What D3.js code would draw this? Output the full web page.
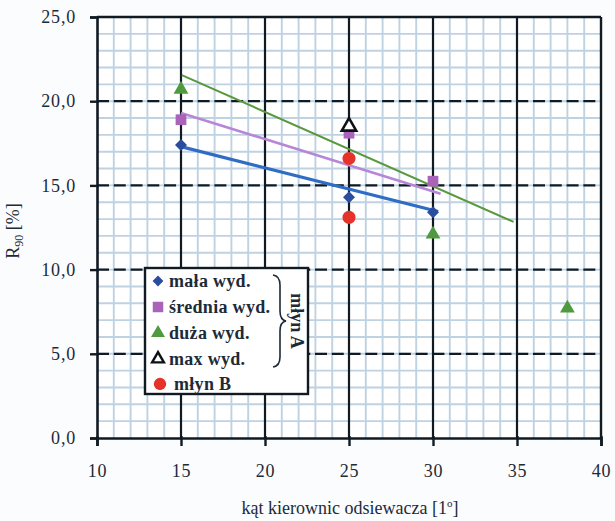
<!DOCTYPE html>
<html>
<head>
<meta charset="utf-8">
<script src="https://cdn.jsdelivr.net/npm/d3@7"></script>
<style>
  html, body { margin: 0; padding: 0; background: #fbfcfe; }
  svg { display: block; }
  text { font-family: "Liberation Serif", "DejaVu Serif", serif; fill: #1d2a38; }
</style>
</head>
<body>
<svg id="chart" width="615" height="521"></svg>
<script>
// Tick values
const xTicks = [10, 15, 20, 25, 30, 35, 40];
const yTicks = [0, 5, 10, 15, 20, 25];

// Measured points (angle of classifier vanes vs R90)
const malaX = [15, 25, 30];
const malaY = [17.4, 14.3, 13.4];
const sredniaX = [15, 25, 30];
const sredniaY = [18.9, 18.1, 15.25];
const duzaX = [15, 30, 38];
const duzaY = [20.7, 12.1, 7.7];
const maxX = [25];
const maxY = [18.5];
const mlynBX = [25, 25];
const mlynBY = [16.6, 13.1];

// Trend lines (start and end points)
const trendMala = [[15, 17.3], [30.3, 13.45]];
const trendSrednia = [[15, 19.3], [30.45, 14.5]];
const trendDuza = [[15.05, 21.55], [34.8, 12.83]];

// Legend labels
const legendLabels = ["mała wyd.", "średnia wyd.", "duża wyd.", "max wyd.", "młyn B"];

const svg = d3.select("#chart");
const x = d3.scaleLinear().domain([10, 40]).range([97, 601]);
const y = d3.scaleLinear().domain([0, 25]).range([438, 17]);

// plot background
svg.append("rect")
  .attr("x", x(10)).attr("y", y(25))
  .attr("width", x(40) - x(10)).attr("height", y(0) - y(25))
  .attr("fill", "#ffffff");

// minor grid every 1 unit
const grid = svg.append("g");
grid.selectAll("line.mx").data(d3.range(11, 40)).join("line")
  .attr("x1", d => x(d)).attr("x2", d => x(d))
  .attr("y1", y(0)).attr("y2", y(25))
  .attr("stroke", "#bed2e2").attr("stroke-width", 1.9);
grid.selectAll("line.my").data(d3.range(1, 25)).join("line")
  .attr("y1", d => y(d)).attr("y2", d => y(d))
  .attr("x1", x(10)).attr("x2", x(40))
  .attr("stroke", "#bed2e2").attr("stroke-width", 1.9);

// major grid: solid verticals, dashed horizontals
grid.selectAll("line.Mx").data(xTicks.filter(d => d > 10 && d < 40)).join("line")
  .attr("x1", d => x(d)).attr("x2", d => x(d))
  .attr("y1", y(0)).attr("y2", y(25))
  .attr("stroke", "#111a22").attr("stroke-width", 2.2);
grid.selectAll("line.My").data(yTicks.filter(d => d > 0 && d < 25)).join("line")
  .attr("y1", d => y(d)).attr("y2", d => y(d))
  .attr("x1", x(10)).attr("x2", x(40))
  .attr("stroke", "#111a22").attr("stroke-width", 2.2)
  .attr("stroke-dasharray", "12,4.77");

// frame on top and right
svg.append("line").attr("x1", x(10)).attr("x2", x(40)).attr("y1", y(25)).attr("y2", y(25))
  .attr("stroke", "#111a22").attr("stroke-width", 2.4);
svg.append("line").attr("x1", x(40)).attr("x2", x(40)).attr("y1", y(0)).attr("y2", y(25))
  .attr("stroke", "#111a22").attr("stroke-width", 2.4);

// axes
const xAxis = d3.axisBottom(x).tickValues(xTicks).tickSize(8).tickPadding(18)
  .tickFormat(d3.format("d"));
const gx = svg.append("g").attr("transform", `translate(0,${y(0)})`).call(xAxis);
const yAxis = d3.axisLeft(y).tickValues(yTicks).tickSize(7).tickPadding(14)
  .tickFormat(d => d3.format(".1f")(d).replace(".", ","));
const gy = svg.append("g").attr("transform", `translate(${x(10)},0)`).call(yAxis);

[gx, gy].forEach(g => {
  g.select(".domain").attr("stroke", "#111a22").attr("stroke-width", 2.6);
  g.selectAll(".tick line").attr("stroke", "#111a22").attr("stroke-width", 2.4);
  g.selectAll(".tick text").attr("font-size", 18).attr("fill", "#1d2a38")
    .style("letter-spacing", "0.8px");
});
// ticks cross the axis slightly
gx.selectAll(".tick line").attr("y1", -2);
gy.selectAll(".tick line").attr("x1", 2).attr("x2", -7);

// axis titles
const xt = svg.append("text")
  .attr("x", 350).attr("y", 514)
  .attr("text-anchor", "middle").attr("font-size", 18);
xt.append("tspan").text("kąt kierownic odsiewacza [1");
xt.append("tspan").attr("font-size", 11).attr("dy", -7).text("o");
xt.append("tspan").attr("dy", 7).text("]");

const yt = svg.append("text")
  .attr("transform", "translate(19,231) rotate(-90)")
  .attr("text-anchor", "middle").attr("font-size", 18);
yt.append("tspan").text("R");
yt.append("tspan").attr("font-size", 12).attr("dy", 4).text("90");
yt.append("tspan").attr("dy", -4).text(" [%]");

// trend lines
const line = d3.line().x(d => x(d[0])).y(d => y(d[1]));
svg.append("path").datum(trendDuza).attr("d", line)
  .attr("stroke", "#58993f").attr("stroke-width", 2).attr("fill", "none");
svg.append("path").datum(trendSrednia).attr("d", line)
  .attr("stroke", "#b886d6").attr("stroke-width", 2.6).attr("fill", "none");
svg.append("path").datum(trendMala).attr("d", line)
  .attr("stroke", "#2f6cc4").attr("stroke-width", 3.2).attr("fill", "none");

// marker helpers
const sym = (type, size) => d3.symbol().type(type).size(size)();
function drawPoints(xs, ys, type, size, fill, stroke, sw, rot) {
  svg.append("g").selectAll("path").data(xs.map((v, i) => [v, ys[i]])).join("path")
    .attr("d", sym(type, size))
    .attr("transform", d => `translate(${x(d[0])},${y(d[1])}) rotate(${rot || 0})`)
    .attr("fill", fill).attr("stroke", stroke || "none").attr("stroke-width", sw || 0);
}

drawPoints(sredniaX, sredniaY, d3.symbolSquare, 115, "#a963b9");
drawPoints(malaX, malaY, d3.symbolSquare, 72, "#2b4d9e", null, 0, 45);
drawPoints(duzaX, duzaY, d3.symbolTriangle, 95, "#4f9a3e");
drawPoints(mlynBX, mlynBY, d3.symbolCircle, 135, "#e6332a");
drawPoints(maxX, maxY, d3.symbolTriangle, 90, "#ffffff", "#0e1116", 2.6);

// legend
const lg = svg.append("g");
lg.append("rect").attr("x", 145).attr("y", 268).attr("width", 163).attr("height", 126)
  .attr("fill", "#ffffff").attr("stroke", "#111a22").attr("stroke-width", 2.4);

const legendRows = [
  { type: d3.symbolSquare, size: 58, fill: "#2b4d9e", rot: 45 },
  { type: d3.symbolSquare, size: 110, fill: "#a963b9" },
  { type: d3.symbolTriangle, size: 85, fill: "#4f9a3e" },
  { type: d3.symbolTriangle, size: 60, fill: "none", stroke: "#0e1116", sw: 2.4 },
  { type: d3.symbolCircle, size: 120, fill: "#e6332a" }
];
const rowY = [281, 307, 333, 359, 384];
legendRows.forEach((r, i) => {
  lg.append("path").attr("d", sym(r.type, r.size))
    .attr("transform", `translate(${i === 4 ? 160 : 158},${rowY[i]}) rotate(${r.rot || 0})`)
    .attr("fill", r.fill).attr("stroke", r.stroke || "none").attr("stroke-width", r.sw || 0);
  lg.append("text").attr("x", i === 4 ? 174 : 169).attr("y", rowY[i] + 6)
    .attr("font-size", 18).attr("font-weight", "bold").attr("fill", "#1d2a38")
    .style("letter-spacing", "0.3px")
    .text(legendLabels[i]);
});

// brace grouping the mill A entries
lg.append("path")
  .attr("d", "M273,275 Q280,276 280,285 L280,311 Q280,320 286,321 Q280,322 280,331 L280,357 Q280,366 273,367")
  .attr("fill", "none").attr("stroke", "#1d2a38").attr("stroke-width", 1.6);
lg.append("text")
  .attr("transform", "translate(291,321) rotate(90)")
  .attr("text-anchor", "middle").attr("font-size", 18).attr("font-weight", "bold")
  .text("młyn A");
</script>
</body>
</html>
